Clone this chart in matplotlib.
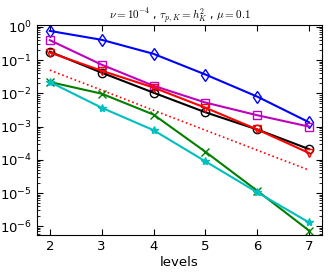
import matplotlib
matplotlib.use('Agg')
import matplotlib.pyplot as plt
import numpy as np

levels = [2, 3, 4, 5, 6, 7]
decades = [1e-6, 1e-5, 1e-4, 1e-3, 1e-2, 1e-1, 1e0]

err_blue = [0.76, 0.41, 0.155, 0.037, 0.0080, 0.00135]
err_magenta = [0.40, 0.073, 0.017, 0.0053, 0.0022, 0.0010]
err_black = [0.18, 0.042, 0.0105, 0.0027, 0.00082, 0.00021]
err_red = [0.17, 0.048, 0.015, 0.0037, 0.00082, 0.00016]
ref_line = [0.05, 0.0125, 0.0031, 0.00078, 0.000195, 0.000049]
err_green = [0.022, 0.0098, 0.0023, 0.000175, 0.0000117, 0.00000074]
err_cyan = [0.022, 0.0037, 0.00078, 0.00009, 0.0000105, 0.0000013]

fig = plt.figure(figsize=(3.32, 2.77), dpi=100)
ax = fig.add_axes([0.111, 0.152, 0.859, 0.758])

ax.semilogy(levels, err_blue, color='b', marker='d', markerfacecolor='none', markeredgecolor='b', markersize=6.5, linewidth=1.5)
ax.semilogy(levels, err_magenta, color='m', marker='s', markerfacecolor='none', markeredgecolor='m', markersize=6, linewidth=1.5)
ax.semilogy(levels, err_black, color='k', marker='o', markerfacecolor='none', markeredgecolor='k', markersize=6, linewidth=1.5)
ax.semilogy(levels, err_red, color='r', marker='v', markerfacecolor='none', markeredgecolor='r', markersize=6, linewidth=1.5)
ax.semilogy(levels, ref_line, color='r', linestyle=':', linewidth=1.2)
ax.semilogy(levels, err_green, color='g', marker='x', markersize=6, linewidth=1.5)
ax.semilogy(levels, err_cyan, color='c', marker='*', markersize=6, linewidth=1.5)

ax.set_xlim(1.75, 7.25)
ax.set_ylim(5.5e-7, 1.15)
ax.set_xticks(levels)
ax.set_yticks(decades)
ax.tick_params(which='both', direction='in', top=True, right=True, labelsize=9.5)
ax.tick_params(which='major', length=4)
ax.tick_params(which='minor', length=2)
ax.set_xlabel('levels', fontsize=9.5, labelpad=2)
ax.set_title(r'$\nu=10^{-4}$ , $\tau_{p,K}=h_K^2$ , $\mu=0.1$', fontsize=8, math_fontfamily='cm', pad=4)

fig.savefig('out.png', dpi=100)
